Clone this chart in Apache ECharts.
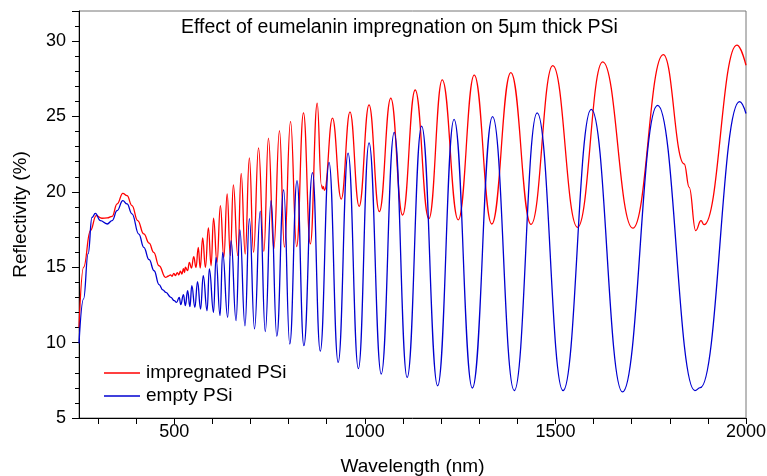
<!DOCTYPE html>
<html>
<head>
<meta charset="utf-8">
<script src="https://cdn.jsdelivr.net/npm/echarts@6/dist/echarts.min.js"></script>
<style>
html,body{margin:0;padding:0;background:#fff;}
#chart{width:767px;height:476px;}
</style>
</head>
<body>
<div id="chart"></div>
<script>
// Impregnated PSi (red): wavelength (nm) and reflectivity (%)
const impregWl = [250,262,280,295,310,324,337,350,365,376,389,404,420,434,446,460,477,485,490,494,499,503,508,512,516,520,524,527,529,535,539.5,545,551,557,563,568,574.5,581.6,589.5,596.6,603,612,621,630,638.7,647,655,666.6,675.5,686,697,708,721,735,747,761,776,789,805,821,839,857,875,886,889,891,894,915,938,961,985,1011,1038,1068,1099,1132,1168,1203,1245,1287,1333,1383,1436,1493,1558,1624,1703,1783,1838,1851,1868,1882,1890,1976,2000];
const impregR  = [11.0,15.0,17.43,18.42,18.25,18.27,18.38,19.2,19.9,19.75,19.09,18.1,17.21,16.6,15.99,15.1,14.33,14.42,14.5,14.4,14.6,14.45,14.65,14.5,14.75,14.55,14.9,14.65,15.0,14.78,15.33,14.95,15.70,14.99,16.32,14.95,16.94,14.99,17.61,15.1,18.25,15.33,19.09,15.66,19.86,15.77,20.46,15.77,21.23,15.88,22.25,15.99,22.92,16.05,23.57,16.21,24.06,16.33,24.68,16.37,25.24,16.55,25.88,20.45,20.2,20.35,20.1,24.89,19.52,25.31,19.04,25.77,18.69,26.22,18.46,26.76,18.22,27.43,18.14,27.75,17.87,27.91,17.85,28.38,17.65,28.62,17.59,29.11,21.85,20.3,17.43,18.09,17.83,29.74,28.4];

// Empty PSi (blue)
const emptyWl = [250,262,274,284,293,306,324,337,350,365,376,389,407,420,434,447,460,470,478,491,500,506,513,517,524,529,535,541,546,554,561,569,576,586,592,603,609.5,620,627,640,649,662,672,685.5,697,710.5,725.5,738.7,754,769,787,803,822,840,862.6,883,906,930,956,983,1011,1043,1077,1111,1149,1191,1234,1282,1335,1392,1452,1520,1594,1676,1768,1866,1880,1983,2000];
const emptyR  = [9.95,12.9,15.9,18.3,18.58,18.09,17.87,18.1,18.76,19.42,19.2,18.54,17.2,16.32,15.5,14.77,13.85,13.5,13.33,13.0,12.78,12.67,13.0,12.52,13.18,12.45,13.45,12.39,13.78,12.34,14.04,12.23,14.45,12.12,14.89,12.01,15.66,11.79,15.99,11.68,16.77,11.46,17.49,11.12,18.22,10.91,18.72,10.73,19.42,10.43,20.13,9.91,20.75,9.80,21.28,9.43,21.96,8.69,22.57,8.27,23.25,7.92,23.95,7.69,24.36,7.14,24.81,6.99,24.99,6.82,25.24,6.82,25.48,6.73,25.74,6.82,7.01,25.99,25.2];

// Axis ticks and labels
const xTickValues = [300,400,500,600,700,800,900,1000,1100,1200,1300,1400,1500,1600,1700,1800,1900,2000];
const xLabelValues = [500,1000,1500,2000];
const seriesNames = ['impregnated PSi','empty PSi'];
const titleText = 'Effect of eumelanin impregnation on 5\u03bcm thick PSi';

const pair = (xs, ys) => xs.map((x, i) => [x, ys[i]]);
const FONT = '"Liberation Sans", Arial, Helvetica, sans-serif';

const chart = echarts.init(document.getElementById('chart'), null, {renderer: 'canvas'});
chart.setOption({
  animation: false,
  backgroundColor: '#fff',
  textStyle: {fontFamily: FONT, color: '#000'},
  title: {
    text: titleText, left: 181, top: 18, padding: 0,
    textStyle: {fontFamily: FONT, fontSize: 19.5, fontWeight: 'normal', color: '#000'}
  },
  grid: {left: 79, right: 21, top: 11, bottom: 58, containLabel: false, outerBoundsMode: 'none',
         show: true, borderColor: '#777', borderWidth: 1, backgroundColor: 'transparent'},
  legend: {
    orient: 'vertical', left: 99, top: 358, itemWidth: 36, itemHeight: 1.6, itemGap: 3, icon: 'rect',
    data: seriesNames,
    textStyle: {fontFamily: FONT, fontSize: 19, color: '#000', lineHeight: 20, padding: [0, 0, 0, 1]}
  },
  xAxis: {
    type: 'value', min: 250, max: 2000,
    name: 'Wavelength (nm)', nameLocation: 'middle', nameGap: 39,
    nameTextStyle: {fontFamily: FONT, fontSize: 19, color: '#000'},
    axisLine: {show: true, onZero: false, lineStyle: {color: '#000', width: 1}},
    axisTick: {show: true, inside: false, length: 6, customValues: xTickValues, lineStyle: {color: '#000'}},
    axisLabel: {customValues: xLabelValues, margin: 5, fontFamily: FONT, fontSize: 18, color: '#000',
                formatter: v => String(v)},
    splitLine: {show: false}
  },
  yAxis: {
    type: 'value', min: 5, max: 32, interval: 5,
    name: 'Reflectivity (%)', nameLocation: 'middle', nameGap: 49,
    nameTextStyle: {fontFamily: FONT, fontSize: 19, color: '#000'},
    axisLine: {show: true, onZero: false, lineStyle: {color: '#000', width: 1}},
    axisTick: {show: true, inside: false, length: 7, lineStyle: {color: '#000'}},
    minorTick: {show: true, splitNumber: 5, length: 4, lineStyle: {color: '#000'}},
    axisLabel: {margin: 13, fontFamily: FONT, fontSize: 18, color: '#000', showMaxLabel: false,
                formatter: v => String(v)},
    splitLine: {show: false}
  },
  series: [
    {name: seriesNames[0], type: 'line', data: pair(impregWl, impregR), symbol: 'none', smooth: 0.45, smoothMonotone: 'x',
     lineStyle: {color: '#ff0000', width: 1.3}, itemStyle: {color: '#ff0000'}},
    {name: seriesNames[1], type: 'line', data: pair(emptyWl, emptyR), symbol: 'none', smooth: 0.45, smoothMonotone: 'x',
     lineStyle: {color: '#0000d0', width: 1.3}, itemStyle: {color: '#0000d0'}}
  ]
});
</script>
</body>
</html>
